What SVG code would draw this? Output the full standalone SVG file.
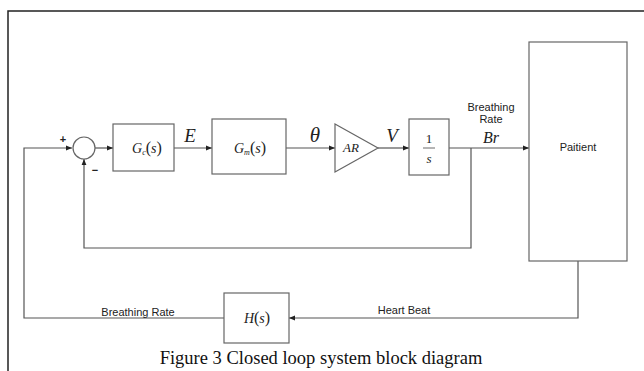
<svg xmlns="http://www.w3.org/2000/svg" width="644" height="371" viewBox="0 0 644 371">
  <style>
    .blk { fill: #fff; stroke: #666; stroke-width: 1.2; }
    .wire { fill: none; stroke: #555; stroke-width: 1.2; }
    .frame { fill: none; stroke: #222; stroke-width: 1.5; }
    .lbl { font-family: "Liberation Sans", Arial, sans-serif; font-size: 11px; fill: #222; }
    .math { font-family: "Liberation Serif", "Times New Roman", serif; font-style: italic; fill: #222; }
    .up { font-style: normal; }
    .cap { font-family: "Liberation Serif", "Times New Roman", serif; font-size: 18.5px; fill: #111; }
  </style>
  <defs>
    <marker id="arr" viewBox="0 0 10 10" refX="10" refY="5" markerWidth="6" markerHeight="6" orient="auto" markerUnits="userSpaceOnUse">
      <path d="M0,1 L10,5 L0,9 Z" fill="#222"/>
    </marker>
  </defs>
  <rect width="644" height="371" fill="#fff"/>

  <!-- page frame -->
  <path class="frame" d="M644,11 H8 V371"/>

  <!-- connectors -->
  <g id="connectors">
    <path class="wire" d="M224,318 H24 V148 H72" marker-end="url(#arr)"/>
    <path class="wire" d="M95,148 H113" marker-end="url(#arr)"/>
    <path class="wire" d="M174,148 H212" marker-end="url(#arr)"/>
    <path class="wire" d="M286,148 H335" marker-end="url(#arr)"/>
    <path class="wire" d="M378,148 H409" marker-end="url(#arr)"/>
    <path class="wire" d="M449,148 H529" marker-end="url(#arr)"/>
    <path class="wire" d="M471,148 V248 H84 V159" marker-end="url(#arr)"/>
    <path class="wire" d="M578,261 V318 H289" marker-end="url(#arr)"/>
  </g>

  <!-- summing junction -->
  <g id="sum">
    <circle class="blk" cx="84" cy="148" r="11"/>
    <text class="lbl" x="63" y="143" text-anchor="middle" font-weight="bold" font-size="10">+</text>
    <text class="lbl" x="95" y="174" text-anchor="middle" font-weight="bold" font-size="12">−</text>
  </g>

  <!-- controller -->
  <g id="gc">
    <rect class="blk" x="113" y="124" width="61" height="47"/>
    <text class="math" x="147" y="153" text-anchor="middle" font-size="14">G<tspan font-size="8" dy="2">c</tspan><tspan class="up" dy="-2" font-size="16">(</tspan>s<tspan class="up" font-size="16">)</tspan></text>
  </g>
  <text class="math" x="190" y="142" text-anchor="middle" font-size="19">E</text>

  <!-- mechanism -->
  <g id="gm">
    <rect class="blk" x="212" y="119" width="74" height="55"/>
    <text class="math" x="250" y="153" text-anchor="middle" font-size="14">G<tspan font-size="8" dy="2">m</tspan><tspan class="up" dy="-2" font-size="16">(</tspan>s<tspan class="up" font-size="16">)</tspan></text>
  </g>
  <text class="math" x="315" y="142" text-anchor="middle" font-size="21">θ</text>

  <!-- gain -->
  <g id="ar">
    <path class="blk" d="M335,124 L378,148 L335,172 Z"/>
    <text class="math" x="351" y="152" text-anchor="middle" font-size="13">AR</text>
  </g>
  <text class="math" x="392" y="142" text-anchor="middle" font-size="19">V</text>

  <!-- integrator -->
  <g id="integ">
    <rect class="blk" x="409" y="119" width="40" height="56"/>
    <text class="math up" x="429" y="143" text-anchor="middle" font-size="13">1</text>
    <line x1="423" y1="148" x2="435" y2="148" stroke="#444" stroke-width="0.8"/>
    <text class="math" x="429" y="163" text-anchor="middle" font-size="13">s</text>
  </g>

  <!-- output labels -->
  <text class="lbl" x="491" y="111" text-anchor="middle">Breathing</text>
  <text class="lbl" x="491" y="123" text-anchor="middle">Rate</text>
  <text class="math" x="491" y="143" text-anchor="middle" font-size="16">Br</text>

  <!-- plant -->
  <g id="patient">
    <rect class="blk" x="529" y="42" width="98" height="219"/>
    <text class="lbl" x="578" y="151" text-anchor="middle" font-size="12">Paitient</text>
  </g>

  <!-- sensor -->
  <g id="hs">
    <rect class="blk" x="224" y="293" width="65" height="50"/>
    <text class="math" x="257" y="323" text-anchor="middle" font-size="14">H<tspan class="up" font-size="16">(</tspan>s<tspan class="up" font-size="16">)</tspan></text>
  </g>

  <text class="lbl" x="138" y="316" text-anchor="middle">Breathing Rate</text>
  <text class="lbl" x="404" y="314" text-anchor="middle">Heart Beat</text>

  <text class="cap" x="321" y="364" text-anchor="middle">Figure 3 Closed loop system block diagram</text>
</svg>
